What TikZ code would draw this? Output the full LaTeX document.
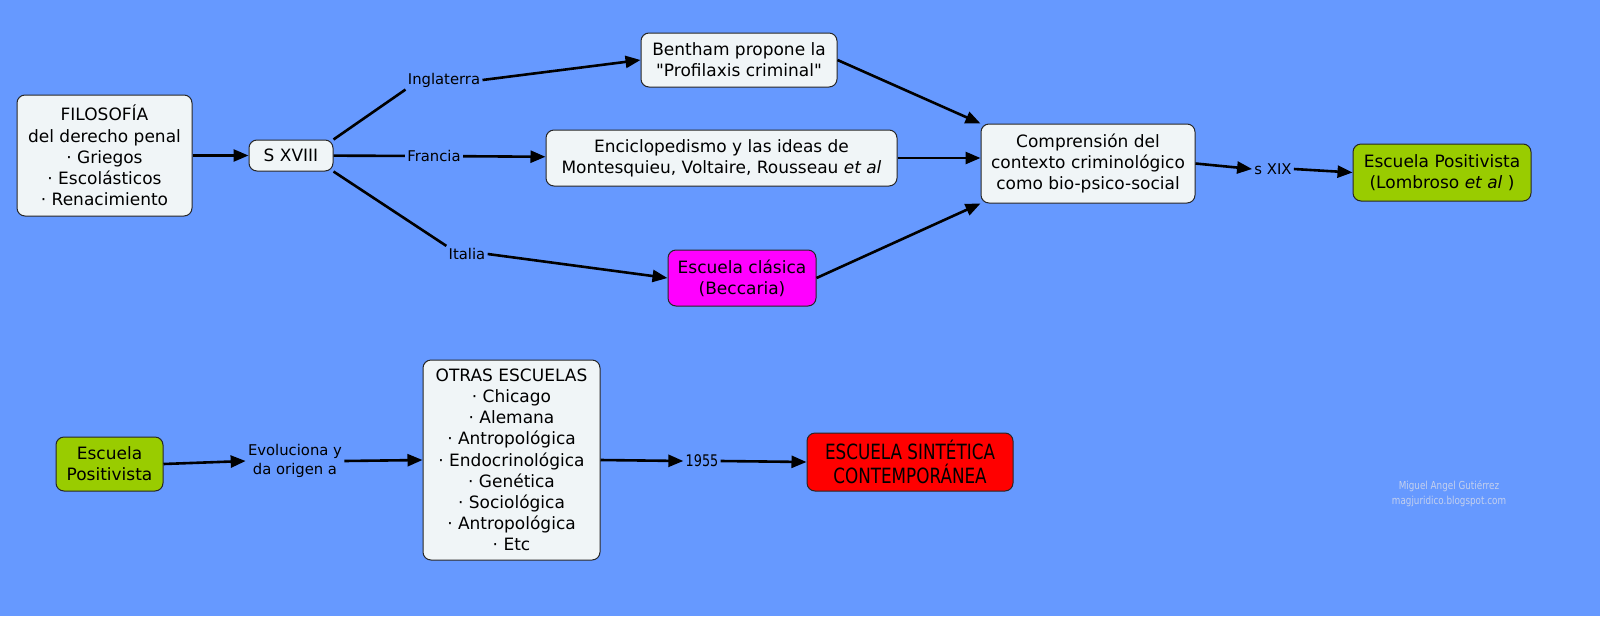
\documentclass[tikz,border=0pt]{standalone}
\usepackage{fontspec}
\setmainfont{DejaVu Sans}[Ligatures=TeXOff]
\newfontfamily\narrowfont{DejaVu Sans}[FakeStretch=0.8]
\usetikzlibrary{arrows.meta}
\definecolor{fondo}{RGB}{102,153,255}
\definecolor{caja}{RGB}{240,245,247}
\definecolor{verde}{RGB}{153,204,0}
\definecolor{rosa}{RGB}{255,0,255}
\definecolor{marca}{RGB}{196,208,238}
\begin{document}
\begin{tikzpicture}[x=0.5pt,y=-0.5pt,font=\fontsize{8.5}{10.6}\selectfont,
  bx/.style={draw=black!85,line width=0.5pt,rounded corners=4pt,fill=caja,align=center,inner sep=2pt},
  lb/.style={font=\fontsize{7.4}{9.2}\selectfont,inner sep=1pt,align=center},
  ln/.style={line width=1.3pt},
  ar/.style={line width=1.3pt,-{Triangle[length=7.5pt,width=6pt]}}]
  \fill[fondo] (0,0) rectangle (1600,616);
  \node[bx,minimum width=87.5pt,minimum height=60.5pt] (filo) at (104.5,155.5){FILOSOFÍA\\del derecho penal\\· Griegos\\· Escolásticos\\· Renacimiento};
  \node[bx,minimum width=42pt,minimum height=15.5pt] (sxviii) at (291,155.5){S XVIII};
  \node[bx,minimum width=98pt,minimum height=27pt] (bentham) at (739,60){Bentham propone la\\"Profilaxis criminal"};
  \node[bx,minimum width=175.5pt,minimum height=28pt] (enc) at (721.5,158){Enciclopedismo y las ideas de\\Montesquieu, Voltaire, Rousseau \textit{et al}};
  \node[bx,fill=rosa,minimum width=74pt,minimum height=28pt] (clasica) at (742,278){Escuela clásica\\(Beccaria)};
  \node[bx,minimum width=107pt,minimum height=39.5pt] (compr) at (1088,163.5){Comprensión del\\contexto criminológico\\como bio-psico-social};
  \node[bx,fill=verde,minimum width=89pt,minimum height=28.5pt] (posit) at (1442,172.5){Escuela Positivista\\(Lombroso \textit{et al} )};
  \node[lb] (ingl) at (444,80){Inglaterra};
  \node[lb] (fran) at (434,156){Francia};
  \node[lb] (ital) at (467,254){Italia};
  \node[lb] (sxix) at (1273,169){s XIX};
  \node[bx,fill=verde,minimum width=53.5pt,minimum height=27pt] (posit2) at (109.5,464){Escuela\\Positivista};
  \node[lb] (evol) at (295,461){Evoluciona y\\da origen a};
  \node[bx,minimum width=88.5pt,minimum height=100pt] (otras) at (511.5,460){OTRAS ESCUELAS\\· Chicago\\· Alemana\\· Antropológica\\· Endocrinológica\\· Genética\\· Sociológica\\· Antropológica\\· Etc};
  \node[lb,font=\narrowfont\fontsize{8}{10}\selectfont] (y1955) at (702,461){1955};
  \node[bx,fill=red,minimum width=103pt,minimum height=29pt,font=\narrowfont\fontsize{10.5}{12}\selectfont] (sint) at (910,462){ESCUELA SINTÉTICA\\CONTEMPORÁNEA};
  \node[text=marca,align=center,font=\narrowfont\fontsize{5.5}{7.5}\selectfont] (firma) at (1449,494){Miguel Angel Gutiérrez\\magjuridico.blogspot.com};
  \draw[ar] (filo) -- (sxviii);
  \draw[ln] (sxviii.north east) -- (ingl.south west);
  \draw[ar] (ingl.east) -- (bentham.west);
  \draw[ln] (sxviii) -- (fran);
  \draw[ar] (fran) -- (enc);
  \draw[ln] (sxviii.south east) -- (ital.north west);
  \draw[ar] (ital.east) -- (clasica.west);
  \draw[ar] (bentham.east) -- (compr.north west);
  \draw[ar] (enc.east) -- (enc.east -| compr.west);
  \draw[ar] (clasica.east) -- (compr.south west);
  \draw[ar] (compr.east) -- (sxix.west);
  \draw[ar] (sxix.east) -- (posit.west);
  \draw[ar] (posit2.east) -- (evol.west);
  \draw[ar] (evol.east) -- (otras.west);
  \draw[ar] (otras.east) -- (y1955.west);
  \draw[ar] (y1955.east) -- (sint.west);
\end{tikzpicture}
\end{document}
